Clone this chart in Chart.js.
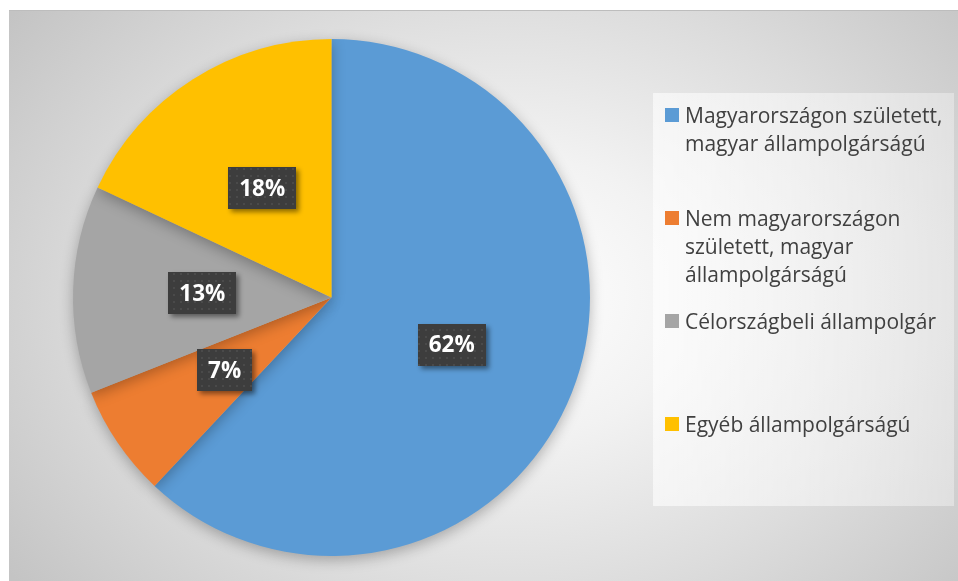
<!DOCTYPE html>
<html>
<head>
<meta charset="utf-8">
<script src="https://cdn.jsdelivr.net/npm/chart.js@4.4.1/dist/chart.umd.min.js"></script>
<style>
  html, body { margin: 0; padding: 0; background: #ffffff; width: 958px; height: 581px; overflow: hidden; }
  #wrap {
    position: absolute; left: 9px; top: 10px; width: 949px; height: 571px;
    background: radial-gradient(ellipse 620px 470px at 500px 285px, #ffffff 0%, #f2f2f2 30%, #dcdcdc 65%, #c4c4c4 100%);
    border-top: 1px solid #bdbdbd; box-sizing: border-box;
  }
  #c { position: absolute; left: 0; top: 0; }
  #legend {
    position: absolute; left: 644px; top: 82px; width: 301px; height: 413px;
    background: linear-gradient(90deg, rgba(255,255,255,0.6), rgba(255,255,255,0.35));
  }
  .item { position: absolute; left: 0; font-family: "Open Sans", sans-serif; font-size: 21px; line-height: 28px; color: #404040; }
  .sw { position: absolute; left: 12px; width: 14px; height: 14px; }
  .tx { position: absolute; left: 32px; white-space: nowrap; }
</style>
</head>
<body>
<div id="wrap">
  <canvas id="c" width="949" height="571"></canvas>
  <div id="legend"></div>
</div>
<script>
const categories = [
  ["Magyarországon született,", "magyar állampolgárságú"],
  ["Nem magyarországon", "született, magyar", "állampolgárságú"],
  ["Célországbeli állampolgár"],
  ["Egyéb állampolgárságú"]
];
const values = [62, 7, 13, 18];
const valueLabels = ["62%", "7%", "13%", "18%"];
const colors = ["#5B9BD5", "#ED7D31", "#A5A5A5", "#FFC000"];
const legendTops = [8, 111, 214, 317]; // first-line top of each legend entry, within the legend box

// HTML legend built from the arrays
const leg = document.getElementById('legend');
categories.forEach((lines, i) => {
  const it = document.createElement('div');
  it.className = 'item';
  it.style.top = legendTops[i] + 'px';
  const sw = document.createElement('div');
  sw.className = 'sw';
  sw.style.background = colors[i];
  sw.style.top = '7px';
  const tx = document.createElement('div');
  tx.className = 'tx';
  tx.innerHTML = lines.join('<br>');
  it.appendChild(sw); it.appendChild(tx);
  leg.appendChild(it);
});

// dotted pattern for label boxes
const pc = document.createElement('canvas');
pc.width = 7; pc.height = 7;
const pctx = pc.getContext('2d');
pctx.fillStyle = '#3d3d3d'; pctx.fillRect(0, 0, 7, 7);
pctx.fillStyle = '#4a4a4a'; pctx.fillRect(3, 3, 2, 2);

const shadowPlugin = {
  id: 'pieShadow',
  beforeDatasetsDraw(chart) {
    const ctx = chart.ctx;
    ctx.save();
    ctx.shadowColor = 'rgba(0,0,0,0.28)';
    ctx.shadowBlur = 14;
    ctx.shadowOffsetY = 4;
  },
  afterDatasetsDraw(chart) {
    chart.ctx.restore();
  }
};

const labelPlugin = {
  id: 'boxLabels',
  afterDraw(chart) {
    const ctx = chart.ctx;
    const meta = chart.getDatasetMeta(0);
    ctx.save();
    ctx.font = 'bold 22.5px "Open Sans", sans-serif';
    meta.data.forEach((arc, i) => {
      const p = arc.getCenterPoint();
      const txt = valueLabels[i];
      const tw = ctx.measureText(txt).width;
      const w = Math.round(tw + 22), h = 42;
      const x = Math.round(p.x - w / 2), y = Math.round(p.y - h / 2);
      ctx.save();
      ctx.shadowColor = 'rgba(0,0,0,0.45)';
      ctx.shadowBlur = 5;
      ctx.shadowOffsetX = 3;
      ctx.shadowOffsetY = 3;
      ctx.fillStyle = ctx.createPattern(pc, 'repeat');
      ctx.fillRect(x, y, w, h);
      ctx.restore();
      ctx.fillStyle = '#ffffff';
      ctx.textAlign = 'center';
      ctx.textBaseline = 'middle';
      ctx.fillText(txt, p.x, p.y + 1);
    });
    ctx.restore();
  }
};

new Chart(document.getElementById('c'), {
  type: 'pie',
  data: {
    labels: categories.map(l => l.join(' ')),
    datasets: [{
      data: values,
      backgroundColor: colors,
      borderWidth: 0
    }]
  },
  options: {
    responsive: false,
    animation: false,
    layout: { padding: { left: 64, right: 368, top: 28, bottom: 26 } },
    plugins: { legend: { display: false }, tooltip: { enabled: false } }
  },
  plugins: [shadowPlugin, labelPlugin]
});
</script>
</body>
</html>
